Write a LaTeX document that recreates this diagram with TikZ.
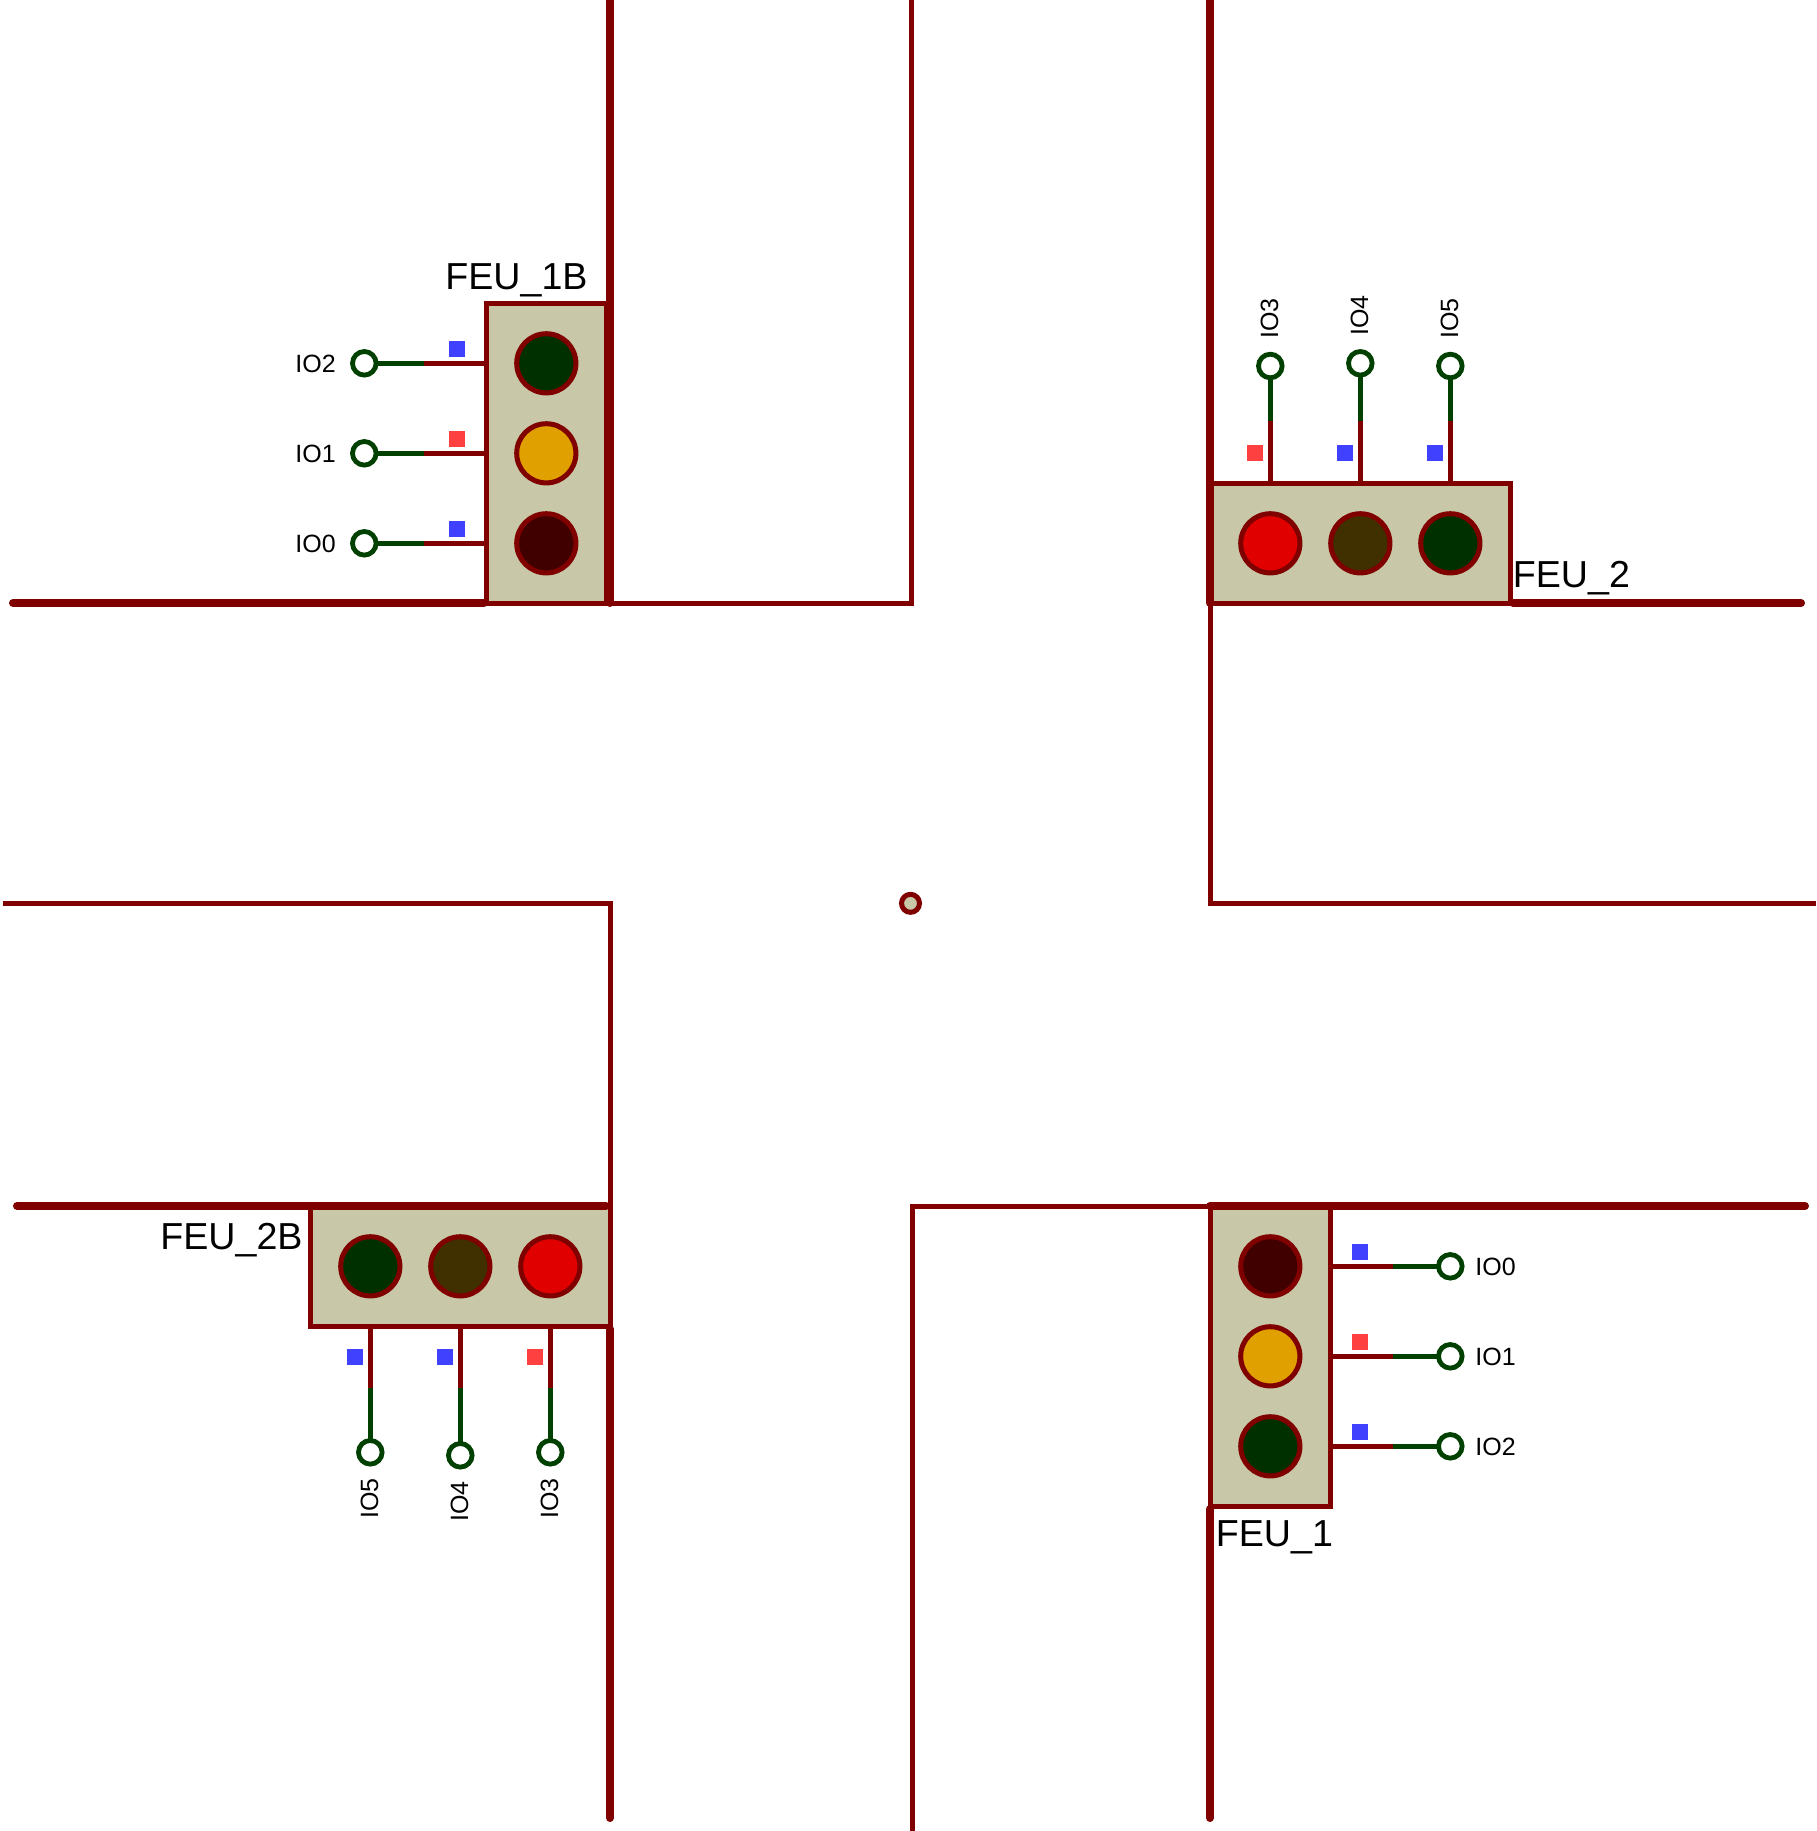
\documentclass[tikz,border=0pt]{standalone}
\usepackage{fontspec}
\setmainfont{Liberation Sans}
\definecolor{road}{RGB}{128,0,0}
\definecolor{pingreen}{RGB}{0,64,0}
\definecolor{body}{RGB}{200,200,168}
\definecolor{lgreen}{RGB}{0,48,0}
\definecolor{lamber}{RGB}{224,160,0}
\definecolor{ldark}{RGB}{64,0,0}
\definecolor{lred}{RGB}{224,0,0}
\definecolor{lbrown}{RGB}{64,48,0}
\definecolor{sqblue}{RGB}{64,64,255}
\definecolor{sqred}{RGB}{255,64,64}
\tikzset{
  thickroad/.style={draw=road,line width=4pt,line cap=round},
  thinroad/.style={draw=road,line width=2.5pt},
  bodybox/.style={draw=road,fill=body,line width=2.6pt,inner sep=0pt,outer sep=0pt},
  hbody/.style={bodybox,minimum width=150pt,minimum height=60pt},
  vbody/.style={bodybox,minimum width=60pt,minimum height=150pt},
  lamp/.style={circle,draw=road,line width=2.5pt,inner sep=0pt,outer sep=0pt,minimum size=29.6pt},
  pinhead/.style={circle,draw=pingreen,fill=white,line width=2.4pt,inner sep=0pt,outer sep=0pt,minimum size=11.8pt},
  wirein/.style={draw=road,line width=2.5pt},
  wireout/.style={draw=pingreen,line width=2.5pt},
  marker/.style={inner sep=0pt,outer sep=0pt,minimum width=8pt,minimum height=8pt},
  bluemark/.style={marker,fill=sqblue},
  redmark/.style={marker,fill=sqred},
  iolabel/.style={inner sep=0pt,font=\fontsize{12.5pt}{14pt}\selectfont},
  feulabel/.style={inner sep=0pt,anchor=base west,font=\fontsize{18.8pt}{20pt}\selectfont},
}
\begin{document}
\begin{tikzpicture}[x=0.5pt,y=-0.5pt]
\useasboundingbox (0,0) rectangle (1816,1831);
\fill[white] (0,0) rectangle (1816,1831);

% thin roads
\draw[thinroad] (911,0) -- (911,603.5) -- (606,603.5);
\draw[thinroad] (1210.5,604) -- (1210.5,903) -- (1816,903);
\draw[thinroad] (3,903) -- (610.5,903) -- (610.5,1206);
\draw[thinroad] (1210,1206.5) -- (912,1206.5) -- (912,1831);

% signal bodies
\node[vbody] (b1b) at (546.5,453.5) {};
\node[hbody] (b2)  at (1360.5,543.5) {};
\node[hbody] (b2b) at (460.5,1266.5) {};
\node[vbody] (b1)  at (1270.5,1356.5) {};

% lamps FEU_1B
\node[lamp,fill=lgreen]  (a1) at (546.3,363.3) {};
\node[lamp,fill=lamber]  (a2) at (546.3,453.3) {};
\node[lamp,fill=ldark]   (a3) at (546.3,543.3) {};
% lamps FEU_2
\node[lamp,fill=lred]    (c1) at (1270.3,543.3) {};
\node[lamp,fill=lbrown]  (c2) at (1360.3,543.3) {};
\node[lamp,fill=lgreen]  (c3) at (1450.3,543.3) {};
% lamps FEU_2B
\node[lamp,fill=lgreen]  (d1) at (370.3,1266.3) {};
\node[lamp,fill=lbrown]  (d2) at (460.3,1266.3) {};
\node[lamp,fill=lred]    (d3) at (550.3,1266.3) {};
% lamps FEU_1
\node[lamp,fill=ldark]   (e1) at (1270.3,1266.3) {};
\node[lamp,fill=lamber]  (e2) at (1270.3,1356.3) {};
\node[lamp,fill=lgreen]  (e3) at (1270.3,1446.3) {};

% pin heads
\node[pinhead] (pa2) at (364.3,363.3) {};
\node[pinhead] (pa1) at (364.3,453.3) {};
\node[pinhead] (pa0) at (364.3,543.3) {};
\node[pinhead] (pc3) at (1270.3,366) {};
\node[pinhead] (pc4) at (1360.3,363.3) {};
\node[pinhead] (pc5) at (1450.3,366) {};
\node[pinhead] (pd5) at (370.3,1452.3) {};
\node[pinhead] (pd4) at (460.3,1455.3) {};
\node[pinhead] (pd3) at (550.3,1452.3) {};
\node[pinhead] (pe0) at (1450.3,1266.3) {};
\node[pinhead] (pe1) at (1450.3,1356.3) {};
\node[pinhead] (pe2) at (1450.3,1446.3) {};

% wires: green from pin head to a joint, red from the joint to the body
\foreach \p in {pa2,pa1,pa0}{
  \coordinate (j\p) at ([xshift=30pt]\p.center);
  \draw[wireout] (\p) -- (j\p);
  \draw[wirein] (j\p) -- (j\p -| b1b.west);
}
\foreach \p in {pc3,pc4,pc5}{
  \coordinate (j\p) at (\p |- 0,421);
  \draw[wireout] (\p) -- (j\p);
  \draw[wirein] (j\p) -- (j\p |- b2.north);
}
\foreach \p in {pd5,pd4,pd3}{
  \coordinate (j\p) at (\p |- 0,1388);
  \draw[wireout] (\p) -- (j\p);
  \draw[wirein] (j\p) -- (j\p |- b2b.south);
}
\foreach \p in {pe0,pe1,pe2}{
  \coordinate (j\p) at ([xshift=-28.6pt]\p.center);
  \draw[wireout] (\p) -- (j\p);
  \draw[wirein] (j\p) -- (j\p -| b1.east);
}

% state markers
\node[bluemark] (ma2) at (457,348.5) {};
\node[redmark]  (ma1) at (457,438.5) {};
\node[bluemark] (ma0) at (457,528.5) {};
\node[redmark]  (mc3) at (1255,453) {};
\node[bluemark] (mc4) at (1345,453) {};
\node[bluemark] (mc5) at (1435,453) {};
\node[bluemark] (md5) at (355,1356.5) {};
\node[bluemark] (md4) at (445,1356.5) {};
\node[redmark]  (md3) at (535,1356.5) {};
\node[bluemark] (me0) at (1360,1251.5) {};
\node[redmark]  (me1) at (1360,1341.5) {};
\node[bluemark] (me2) at (1360,1431.5) {};

% thick roads
\draw[thickroad] (610,-10) -- (610,603);
\draw[thickroad] (13,603) -- (484,603);
\draw[thickroad] (1210,-10) -- (1210,603);
\draw[thickroad] (1513,603) -- (1801,603);
\draw[thickroad] (17,1206) -- (606,1206);
\draw[thickroad] (610,1329) -- (610,1818);
\draw[thickroad] (1210,1206) -- (1805,1206);
\draw[thickroad] (1210,1509) -- (1210,1818);

% centre dot
\node[circle,draw=road,fill=body,line width=2.5pt,inner sep=0pt,minimum size=9pt] (dot) at (910.5,903.3) {};

% texts
\node[feulabel] (t1b) at (445,289) {FEU\_1B};
\node[feulabel] (t2)  at (1512.5,587) {FEU\_2};
\node[feulabel] (t2b) at (160,1249) {FEU\_2B};
\node[feulabel] (t1)  at (1215.5,1546) {FEU\_1};

\node[iolabel,anchor=base west] (la2) at (295,372) {IO2};
\node[iolabel,anchor=base west] (la1) at (295,462) {IO1};
\node[iolabel,anchor=base west] (la0) at (295,552) {IO0};
\node[iolabel,anchor=base west] (le0) at (1475,1275) {IO0};
\node[iolabel,anchor=base west] (le1) at (1475,1365) {IO1};
\node[iolabel,anchor=base west] (le2) at (1475,1455) {IO2};

\node[iolabel,anchor=base west,rotate=90] (lc3) at (1278,339) {IO3};
\node[iolabel,anchor=base west,rotate=90] (lc4) at (1368,336) {IO4};
\node[iolabel,anchor=base west,rotate=90] (lc5) at (1458,339) {IO5};
\node[iolabel,anchor=base west,rotate=90] (ld5) at (378,1519) {IO5};
\node[iolabel,anchor=base west,rotate=90] (ld4) at (468,1522) {IO4};
\node[iolabel,anchor=base west,rotate=90] (ld3) at (558,1519) {IO3};
\end{tikzpicture}
\end{document}
